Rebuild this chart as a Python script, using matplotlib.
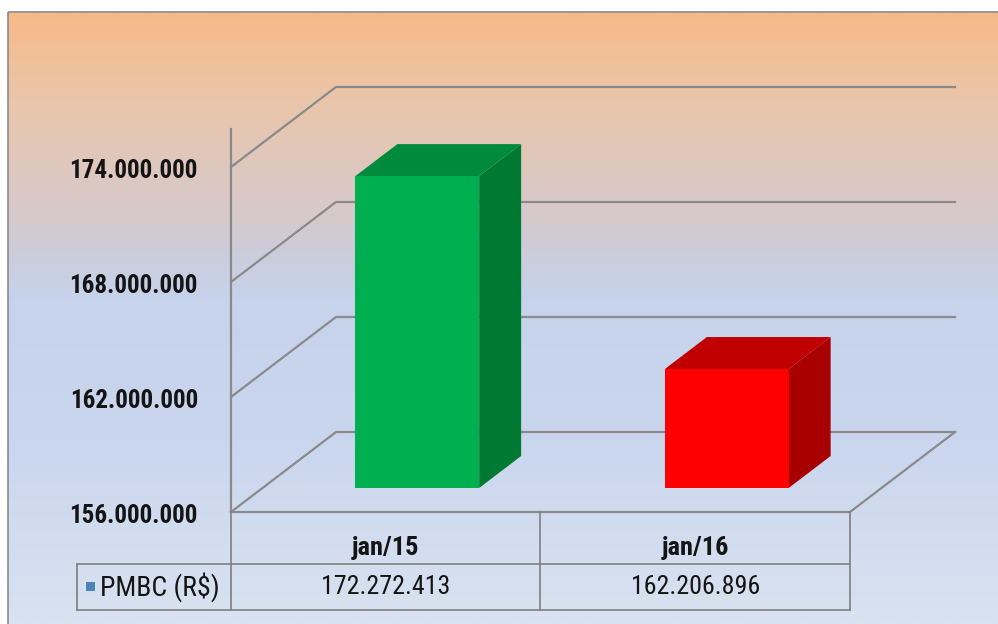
import numpy as np
import matplotlib
matplotlib.use('Agg')
from matplotlib import pyplot as plt
from matplotlib import font_manager
from matplotlib.patches import Polygon, Rectangle
from matplotlib.colors import LinearSegmentedColormap

# dane
kategorie = ['jan/15', 'jan/16']
wartosci = [172272413, 162206896]
etykiety_wartosci = ['172.272.413', '162.206.896']
seria = 'PMBC (R$)'
ticki = [156000000, 162000000, 168000000, 174000000]
etykiety_tickow = ['156.000.000', '162.000.000', '168.000.000', '174.000.000']
kolory_przod = ['#00B050', '#FF0000']
kolory_gora = ['#008A3C', '#C00000']
kolory_bok = ['#007A33', '#A80000']

VMIN = ticki[0]
VMAX_OS = 176000000  # os pionowa troche wyzej niz ostatni tick

# geometria (piksele)
X0, X1 = 231, 850
Y_PODLOGA = 512
PX_NA_JEDNOSTKE = 115 / 6e6
DX, DY = 105, 80
SZER_SLUPKA = 0.4
GLEB0, GLEB1 = 0.3, 0.7

# czcionka waska jesli jest, inaczej zwykla i mniejsza
dostepne = {f.name for f in font_manager.fontManager.ttflist}
waskie = [n for n in ['Liberation Sans Narrow', 'Arial Narrow', 'Roboto Condensed',
                      'Open Sans Condensed', 'DejaVu Sans Condensed'] if n in dostepne]
if waskie:
    FONT = [waskie[0], 'DejaVu Sans']
    SKALA = 1.0
else:
    FONT = ['Liberation Sans', 'DejaVu Sans']
    SKALA = 0.85

SZARY = '#8A8A8A'
TEKST = '#141414'


def rzut(cx, v, d):
    x = X0 + cx * (X1 - X0) / len(kategorie) + d * DX
    y = Y_PODLOGA - (v - VMIN) * PX_NA_JEDNOSTKE - d * DY
    return (x, y)


fig = plt.figure(figsize=(9.98, 6.24), dpi=100)
ax = fig.add_axes([0, 0, 1, 1])
ax.set_xlim(0, 998)
ax.set_ylim(624, 0)
ax.axis('off')

# tlo gradient
stopy = [(0.0, '#F7BA88'), (0.15, '#E9C6AC'), (0.31, '#D9C9C8'),
         (0.39, '#CDCCDA'), (0.47, '#C6D3EB'), (0.7, '#CAD6EE'), (1.0, '#D8E2F0')]
cmap = LinearSegmentedColormap.from_list('tlo', stopy)
grad = np.linspace(0, 1, 300).reshape(-1, 1)
ax.imshow(grad, cmap=cmap, aspect='auto', extent=[8, 998, 624, 12], zorder=0)
ax.add_patch(Rectangle((8, 12), 1000, 700, fill=False, ec='#8A8A8A', lw=1.2, zorder=1))

# siatka
for t in ticki:
    a = rzut(0, t, 0)
    b = rzut(0, t, 1)
    c = rzut(len(kategorie), t, 1)
    ax.plot([a[0], b[0], c[0]], [a[1], b[1], c[1]], color=SZARY, lw=1.6, zorder=2)
# podloga
p = [rzut(0, VMIN, 0), rzut(len(kategorie), VMIN, 0), rzut(len(kategorie), VMIN, 1)]
ax.plot([q[0] for q in p], [q[1] for q in p], color=SZARY, lw=1.6, zorder=2)
# os pionowa
a = rzut(0, VMIN, 0)
b = rzut(0, VMAX_OS, 0)
ax.plot([a[0], b[0]], [a[1], b[1]], color=SZARY, lw=1.6, zorder=2)

for t, et in zip(ticki, etykiety_tickow):
    x, y = rzut(0, t, 0)
    ax.text(x - 33, y + 4, et, ha='right', va='center', fontsize=18 * SKALA,
            fontweight='bold', family=FONT, color=TEKST, zorder=5)

# slupki 3d
for i, v in enumerate(wartosci):
    l = i + 0.5 - SZER_SLUPKA / 2
    r = i + 0.5 + SZER_SLUPKA / 2
    przod = [rzut(l, VMIN, GLEB0), rzut(r, VMIN, GLEB0), rzut(r, v, GLEB0), rzut(l, v, GLEB0)]
    gora = [rzut(l, v, GLEB0), rzut(r, v, GLEB0), rzut(r, v, GLEB1), rzut(l, v, GLEB1)]
    bok = [rzut(r, VMIN, GLEB0), rzut(r, VMIN, GLEB1), rzut(r, v, GLEB1), rzut(r, v, GLEB0)]
    ax.add_patch(Polygon(bok, closed=True, fc=kolory_bok[i], ec='none', zorder=3))
    ax.add_patch(Polygon(gora, closed=True, fc=kolory_gora[i], ec='none', zorder=3))
    ax.add_patch(Polygon(przod, closed=True, fc=kolory_przod[i], ec='none', zorder=4))

# tabela danych
Y_W1, Y_W2 = 564, 610
X_LEWO = 77
kol = [rzut(i, VMIN, 0)[0] for i in range(len(kategorie) + 1)]
for x in kol:
    ax.plot([x, x], [Y_PODLOGA, Y_W2], color='#7F7F7F', lw=1.2, zorder=2)
ax.plot([X_LEWO, kol[-1]], [Y_W1, Y_W1], color='#7F7F7F', lw=1.2, zorder=2)
ax.plot([X_LEWO, kol[-1]], [Y_W2, Y_W2], color='#7F7F7F', lw=1.2, zorder=2)
ax.plot([X_LEWO, X_LEWO], [Y_W1, Y_W2], color='#7F7F7F', lw=1.2, zorder=2)

for i, (k, et) in enumerate(zip(kategorie, etykiety_wartosci)):
    xc = (kol[i] + kol[i + 1]) / 2
    ax.text(xc, 548, k, ha='center', va='center', fontsize=19 * SKALA, fontweight='bold',
            family=FONT, color=TEKST, zorder=5)
    ax.text(xc, 587, et, ha='center', va='center', fontsize=18.7 * SKALA,
            family=FONT, color=TEKST, zorder=5)

ax.add_patch(Rectangle((86, 582), 9, 9, fc='#4F81BD', ec='none', zorder=5))
ax.text(100, 587, seria, ha='left', va='center', fontsize=20 * SKALA,
        family=FONT, color=TEKST, zorder=5)

fig.savefig('out.png', dpi=100)
